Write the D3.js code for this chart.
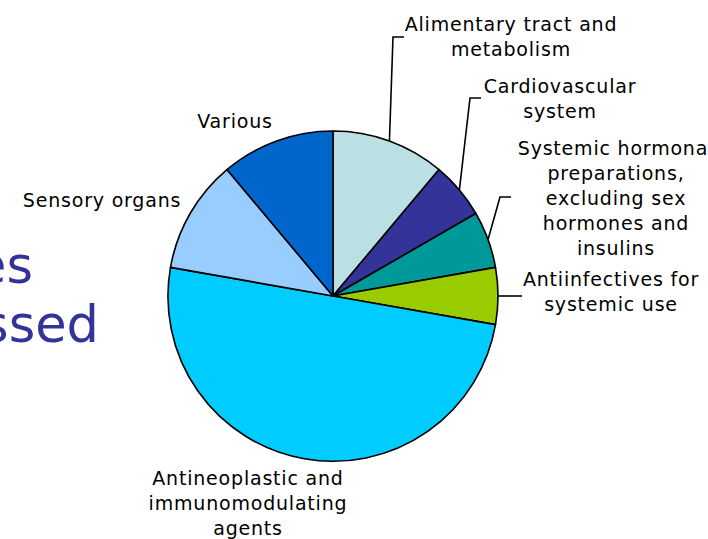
<!DOCTYPE html>
<html>
<head>
<meta charset="utf-8">
<script src="https://cdn.jsdelivr.net/npm/d3@7"></script>
<style>
  body { margin: 0; background: #fff; }
  svg { display: block; }
  .lbl { font-family: "DejaVu Sans", Verdana, sans-serif; font-size: 19px; letter-spacing: 0.8px; fill: #000; }
  .bg { font-family: "DejaVu Sans", Verdana, sans-serif; font-size: 51px; fill: #333399; }
</style>
</head>
<body>
<svg width="708" height="539"></svg>
<script>
// data (clockwise from 12 o'clock)
let categories = [
  "Alimentary tract and metabolism",
  "Cardiovascular system",
  "Systemic hormonal preparations, excluding sex hormones and insulins",
  "Antiinfectives for systemic use",
  "Antineoplastic and immunomodulating agents",
  "Sensory organs",
  "Various"
];
let values = [2, 1, 1, 1, 9, 2, 2];
let colors = ["#BBE0E3", "#333399", "#009999", "#99CC00", "#00CCFF", "#99CCFF", "#0066CC"];

// label text lines as in the picture
let labelLines = [
  ["Alimentary tract and", "metabolism"],
  ["Cardiovascular", "system"],
  ["Systemic hormonal", "preparations,", "excluding sex", "hormones and", "insulins"],
  ["Antiinfectives for", "systemic use"],
  ["Antineoplastic and", "immunomodulating", "agents"],
  ["Sensory organs"],
  ["Various"]
];

let svg = d3.select("svg");
let cx = 333, cy = 296, radius = 165;
let lineH = 25;

// leftover slide text behind the chart
svg.append("text").attr("class", "bg").attr("text-anchor", "end")
  .attr("x", 33).attr("y", 283).text("es");
svg.append("text").attr("class", "bg").attr("text-anchor", "end")
  .attr("x", 99).attr("y", 342).text("ssed");

let pie = d3.pie().sort(null).value(d => d);
let arc = d3.arc().innerRadius(0).outerRadius(radius);
let arcs = pie(values);

let g = svg.append("g").attr("transform", `translate(${cx},${cy})`);

g.selectAll("path")
  .data(arcs)
  .enter()
  .append("path")
  .attr("d", arc)
  .attr("fill", (d, i) => colors[i])
  .attr("stroke", "#000")
  .attr("stroke-width", 1.6)
  .attr("stroke-linejoin", "round");

// label placement: centre of first line (x, baseline y) relative to pie centre,
// plus optional leader elbow / end
let layout = [
  { x: 178, y: -265, elbow: [60, -259], end: [71, -259] },
  { x: 227, y: -203, elbow: [137, -198], end: [148, -198] },
  { x: 283, y: -141, elbow: [167, -99], end: [178, -99] },
  { x: 278, y: -10, elbow: null, end: [189, 0] },
  { x: -85, y: 189 },
  { x: -231, y: -89 },
  { x: -98, y: -168 }
];

arcs.forEach((a, i) => {
  let L = layout[i];
  let mid = (a.startAngle + a.endAngle) / 2;
  if (L.end) {
    let p0 = [Math.sin(mid) * radius, -Math.cos(mid) * radius];
    let pts = L.elbow ? [p0, L.elbow, L.end] : [p0, L.end];
    g.append("path")
      .attr("d", d3.line()(pts))
      .attr("fill", "none")
      .attr("stroke", "#000")
      .attr("stroke-width", 1.6);
  }
  let t = g.append("text")
    .attr("class", "lbl")
    .attr("text-anchor", "middle");
  labelLines[i].forEach((s, j) => {
    t.append("tspan")
      .attr("x", L.x)
      .attr("y", L.y + j * lineH)
      .text(s);
  });
});
</script>
</body>
</html>
